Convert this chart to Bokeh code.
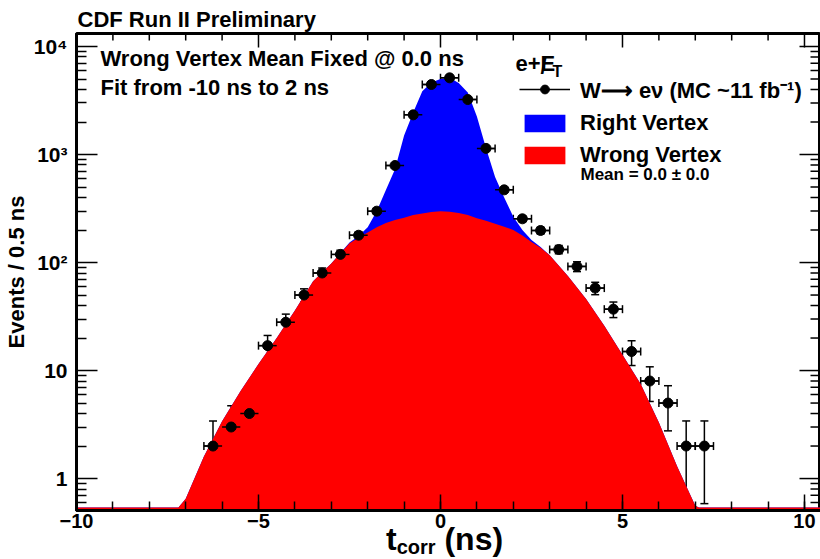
import numpy as np
from bokeh.plotting import figure
from bokeh.layouts import column
from bokeh.models import (Range1d, Whisker, ColumnDataSource, Label, Legend, LegendItem,
                          TeeHead, FixedTicker, Div)
from bokeh.embed import file_html
from bokeh.resources import INLINE

# ---------------- data ----------------
bin_centers = [-6.25, -5.75, -5.25, -4.75, -4.25, -3.75, -3.25, -2.75, -2.25, -1.75,
               -1.25, -0.75, -0.25, 0.25, 0.75, 1.25, 1.75, 2.25, 2.75, 3.25,
               3.75, 4.25, 4.75, 5.25, 5.75, 6.25, 6.75, 7.25]
counts = [2, 3, 4, 17, 28, 50, 80, 119, 179, 299,
          791, 2330, 4450, 5130, 3230, 1140, 471, 254, 198, 132,
          92, 58, 37, 15, 8, 5, 2, 2]
bin_half_width = 0.25

fit_t = [-10.0, -7.2, -7.0, -6.5, -6.0, -5.5, -5.0, -4.5, -4.0, -3.5, -3.0,
         -2.5, -2.25, -2.0, -1.75, -1.5, -1.25, -1.0, -0.75, -0.5, -0.25,
         0.0, 0.25, 0.5, 0.75, 1.0, 1.25, 1.5, 1.75, 2.0, 2.25,
         2.5, 2.75, 3.0, 3.5, 4.0, 4.5, 5.0, 5.5, 6.0, 6.5,
         7.0, 7.1, 10.44]
wrong_vertex = [0.54, 0.54, 0.65, 1.6, 3.4, 6.4, 11.5, 20, 36, 67, 98,
                151, 170, 190, 212, 232, 247, 260, 276, 285, 294,
                299, 296, 288, 275, 257, 244, 229, 215, 200, 178,
                155, 137, 117, 75, 46, 26, 14, 7.5, 3.3, 1.3,
                0.56, 0.54, 0.54]
total_fit = [0.54, 0.54, 0.65, 1.6, 3.4, 6.4, 11.5, 20, 36, 67, 98,
             153, 176, 212, 300, 470, 730, 1500, 2450, 3850, 4650,
             5000, 5150, 4600, 3750, 2250, 1150, 620, 400, 265, 200,
             162, 139, 117, 75, 46, 26, 14, 7.5, 3.3, 1.3,
             0.56, 0.54, 0.54]

x_ticks = [-10, -5, 0, 5, 10]
x_minor = list(range(-10, 11))
y_ticks = [1, 10, 100, 1000, 10000]
y_tick_labels = {1: "1", 10: "10", 100: "10²", 1000: "10³", 10000: "10⁴"}
y_minor = [m * 10.0 ** e for e in range(-1, 5) for m in range(2, 10)]

title_text = "CDF Run II Preliminary"
info_lines = ["Wrong Vertex Mean Fixed @ 0.0 ns", "Fit from -10 ns to 2 ns"]
legend_labels = ["W⟶ eν (MC ~11 fb⁻¹)", "Right Vertex", "Wrong Vertex"]
mean_text = "Mean = 0.0 ± 0.0"
y_title = "Events / 0.5 ns"

# ---------------- layout ----------------
FONT = "Liberation Sans"
W, H = 820, 559
FIG_H = 537                 # figure canvas height; x title lives in a Div below
FL, FB, FT = 76, 510, 33    # frame left / bottom / top in canvas pixels
X0, X1 = -10.0, 10.44
Y0, Y1 = 0.506, 13200.0

p = figure(width=W, height=FIG_H, x_range=Range1d(X0, X1), y_range=Range1d(Y0, Y1),
           y_axis_type="log", output_backend="svg", toolbar_location=None,
           min_border_left=FL, min_border_right=0, min_border_top=FT,
           min_border_bottom=FIG_H - FB)
p.xgrid.visible = False
p.ygrid.visible = False
p.outline_line_color = "black"
p.outline_line_width = 3
p.background_fill_color = "white"
p.border_fill_color = "white"

p.title.text = title_text
p.title.align = "left"
p.title.offset = 1
p.title.standoff = 3
p.title.text_font = FONT
p.title.text_font_style = "bold"
p.title.text_font_size = "22px"
p.title.text_color = "black"

# fills
blue_r = p.varea(x=fit_t, y1=1e-3, y2=total_fit, fill_color="#0000ff")
red_r = p.varea(x=fit_t, y1=1e-3, y2=wrong_vertex, fill_color="#ff0000")

# data points with error bars
cnt = np.array(counts, dtype=float)
err = np.sqrt(cnt)
bc = np.array(bin_centers)
src = ColumnDataSource(dict(x=bc, y=cnt, ylo=cnt - err, yhi=cnt + err,
                            xlo=bc - bin_half_width, xhi=bc + bin_half_width))
for dim, base, lo, hi in (("height", "x", "ylo", "yhi"), ("width", "y", "xlo", "xhi")):
    p.add_layout(Whisker(source=src, base=base, lower=lo, upper=hi, dimension=dim,
                         line_color="black", line_width=1.5,
                         upper_head=TeeHead(size=8, line_color="black", line_width=1.5),
                         lower_head=TeeHead(size=8, line_color="black", line_width=1.5)))
hbar_r = p.segment(x0="xlo", x1="xhi", y0="y", y1="y", source=src,
                   line_color="black", line_width=1.5)
pts = p.scatter("x", "y", source=src, size=10, marker="circle",
                fill_color="black", line_color="black")

# mirrored ticks on top and right frame edges (lengths in pixels -> data units)
frame_w = W - FL
frame_h = FB - FT
px_per_x = frame_w / (X1 - X0)
px_per_dec = frame_h / np.log10(Y1 / Y0)

def top_ticks(pos, length):
    n = len(pos)
    p.segment(x0=pos, x1=pos, y0=[Y1] * n, y1=[Y1 * 10 ** (-length / px_per_dec)] * n,
              line_color="black", line_width=1.5)

def right_ticks(pos, length):
    pos = [v for v in pos if Y0 <= v <= Y1]
    n = len(pos)
    p.segment(x0=[X1] * n, x1=[X1 - length / px_per_x] * n, y0=pos, y1=pos,
              line_color="black", line_width=1.5)

top_ticks(x_ticks, 14)
top_ticks([v for v in x_minor if v not in x_ticks], 7)
right_ticks(y_ticks, 21)
right_ticks(y_minor, 10)

# axes styling
def style_axis(ax, major_in, minor_in, size):
    ax.axis_line_width = 3
    ax.axis_line_color = "black"
    ax.major_tick_in = major_in
    ax.major_tick_out = 0
    ax.minor_tick_in = minor_in
    ax.minor_tick_out = 0
    ax.major_tick_line_width = 1.5
    ax.minor_tick_line_width = 1.5
    ax.major_tick_line_color = "black"
    ax.minor_tick_line_color = "black"
    ax.major_label_text_font = FONT
    ax.major_label_text_font_style = "bold"
    ax.major_label_text_color = "black"
    ax.major_label_text_font_size = size

p.xaxis.ticker = FixedTicker(ticks=x_ticks, minor_ticks=x_minor)
style_axis(p.xaxis[0], 16, 9, "20px")
p.xaxis.major_label_standoff = 3

p.yaxis.ticker = FixedTicker(ticks=y_ticks, minor_ticks=y_minor)
style_axis(p.yaxis[0], 21, 10, "21px")
p.yaxis.major_label_overrides = y_tick_labels
p.yaxis.major_label_standoff = 9
p.yaxis.axis_label = y_title
p.yaxis.axis_label_text_font = FONT
p.yaxis.axis_label_text_font_style = "bold"
p.yaxis.axis_label_text_font_size = "22px"
p.yaxis.axis_label_text_color = "black"
p.yaxis.axis_label_standoff = 2

def frame_label(text, cx, cy, size, baseline="middle", align="left"):
    p.add_layout(Label(x=cx - FL, y=FB - cy, x_units="screen", y_units="screen",
                       text=text, text_font=FONT, text_font_style="bold",
                       text_font_size=size, text_color="black",
                       text_baseline=baseline, text_align=align))

frame_label(info_lines[0], 100, 58, "22px")
frame_label(info_lines[1], 100, 87, "22px")
frame_label(mean_text, 580, 174, "17px")
# legend header e+MET
frame_label("e+E", 515, 63, "22px")
frame_label("/", 540, 66, "22px")
frame_label("T", 552, 71, "16px")

# legend
legend = Legend(items=[LegendItem(label=legend_labels[0], renderers=[hbar_r, pts]),
                       LegendItem(label=legend_labels[1], renderers=[blue_r]),
                       LegendItem(label=legend_labels[2], renderers=[red_r])],
                location=(519 - FL, FB - 168), padding=0, margin=0, spacing=6,
                glyph_width=51, glyph_height=22, label_height=22, label_standoff=10,
                label_text_font=FONT, label_text_font_style="bold",
                label_text_font_size="22px", label_text_color="black",
                border_line_alpha=0, background_fill_alpha=0)
p.add_layout(legend)

# x axis title with subscript, as real HTML text just under the canvas
OVERLAP = 16
x_title_html = (
    '<div style="margin-left:386px; font-family:\'Liberation Sans\'; '
    'font-weight:bold; font-size:32px; line-height:36px; color:black; white-space:nowrap;">'
    't<span style="font-size:20px; position:relative; top:4px;">corr</span> (ns)</div>'
)
x_title = Div(text=x_title_html, width=W, height=H - FIG_H + OVERLAP,
              margin=(-OVERLAP, 0, 0, 0), styles={"overflow": "hidden"})

layout = column(p, x_title, spacing=0)
open("out.html", "w").write(file_html(layout, INLINE))
